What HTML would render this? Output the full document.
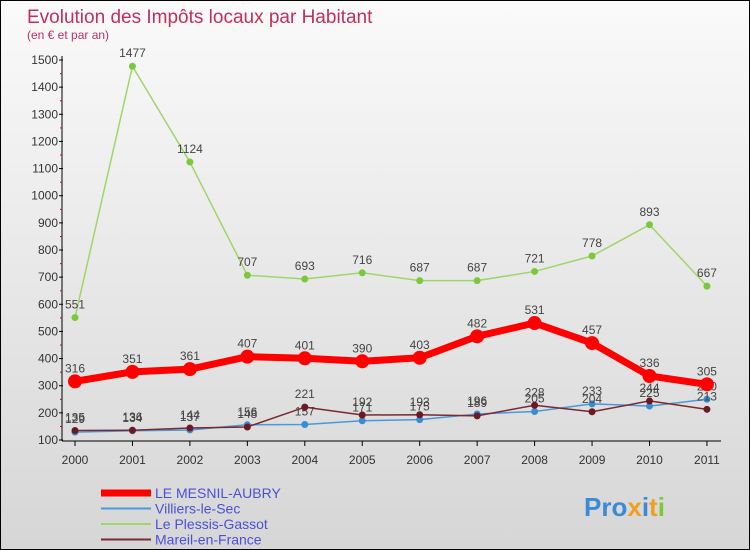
<!DOCTYPE html>
<html><head><meta charset="utf-8"><style>
body{margin:0;}
#wrap{width:748px;height:548px;border:1px solid #000;position:relative;background:linear-gradient(#fafafa,#d6d6d6);font-family:"Liberation Sans",sans-serif;overflow:hidden}
</style></head><body>
<div id="wrap">
<svg id="chart" width="748" height="548"></svg>
</div>
<script>
const years=[2000,2001,2002,2003,2004,2005,2006,2007,2008,2009,2010,2011];
const mesnil=[316,351,361,407,401,390,403,482,531,457,336,305];
const villiers=[129,134,137,156,157,171,175,196,205,233,225,250];
const plessis=[551,1477,1124,707,693,716,687,687,721,778,893,667];
const mareil=[135,136,144,148,221,192,193,189,228,204,244,213];
const yTicks=[100,200,300,400,500,600,700,800,900,1000,1100,1200,1300,1400,1500];
const NS="http://www.w3.org/2000/svg";
const svg=document.getElementById('chart');
const X=i=>74+i*57.45, Y=v=>439-(v-100)*380/1400;
function el(t,a,p){const e=document.createElementNS(NS,t);for(const k in a)e.setAttribute(k,a[k]);(p||svg).appendChild(e);return e;}
let t=el('text',{x:26,y:22,fill:'#c0305a','font-size':19});t.textContent='Evolution des Impôts locaux par Habitant';

t=el('text',{x:26,y:38,fill:'#c0305a','font-size':12});t.textContent='(en € et par an)';

el('line',{x1:61,y1:55,x2:61,y2:440,stroke:'#000'});
el('line',{x1:61,y1:440,x2:720,y2:440,stroke:'#000'});
yTicks.forEach(v=>{const y=Y(v);el('line',{x1:58,y1:y,x2:62,y2:y,stroke:'#000'});
const l=el('text',{x:57,y:y+4,'text-anchor':'end','font-size':12,fill:'#333'});l.textContent=v;

if(v<1500)el('line',{x1:59,y1:y-13.5,x2:61,y2:y-13.5,stroke:'#e00'});});
years.forEach((yr,i)=>{el('line',{x1:X(i),y1:440,x2:X(i),y2:445,stroke:'#000'});
const l=el('text',{x:X(i),y:463,'text-anchor':'middle','font-size':12,fill:'#333'});l.textContent=yr;
});
function series(d,color,w,r,name,dot){
const p=el('polyline',{points:d.map((v,i)=>X(i)+','+Y(v)).join(' '),fill:'none',stroke:color,'stroke-width':w,'stroke-linejoin':'round'});

d.forEach((v,i)=>{const c=el('circle',{cx:X(i),cy:Y(v),r:r,fill:dot||color});

const l=el('text',{x:X(i),y:Y(v)-9,'text-anchor':'middle','font-size':12,fill:'#444'});l.textContent=v;
});}
series(plessis,'#9ed66a',1.5,3.5,'le-plessis-gassot','#7cc83c');
series(villiers,'#4a9ad8',1.5,3.5,'villiers-le-sec','#3c8cd0');
series(mareil,'#7a2a30',1.5,3.5,'mareil-en-france','#6a1a22');
series(mesnil,'#f00',7,7,'le-mesnil-aubry');
const leg=[['LE MESNIL-AUBRY','#f00',7],['Villiers-le-Sec','#4a9ad8',2],['Le Plessis-Gassot','#9ed66a',2],['Mareil-en-France','#7a2a30',2]];
leg.forEach((L,i)=>{const y=492+i*15.5;
const ln=el('line',{x1:100,y1:y,x2:150,y2:y,stroke:L[1],'stroke-width':L[2]});

const tx=el('text',{x:154,y:y+5,'font-size':14,fill:'#4a50d8'});tx.textContent=L[0];
});
const logo=el('text',{x:583,y:515,'font-size':26,'font-weight':'bold',fill:'#3a8ad8'});
logo.innerHTML='<tspan fill="#3a8ad8">Pro</tspan><tspan fill="#f0a020">x</tspan><tspan fill="#3a8ad8">i</tspan><tspan fill="#f0a020">t</tspan><tspan fill="#7cc83c">i</tspan>';

</script>
</body></html>
